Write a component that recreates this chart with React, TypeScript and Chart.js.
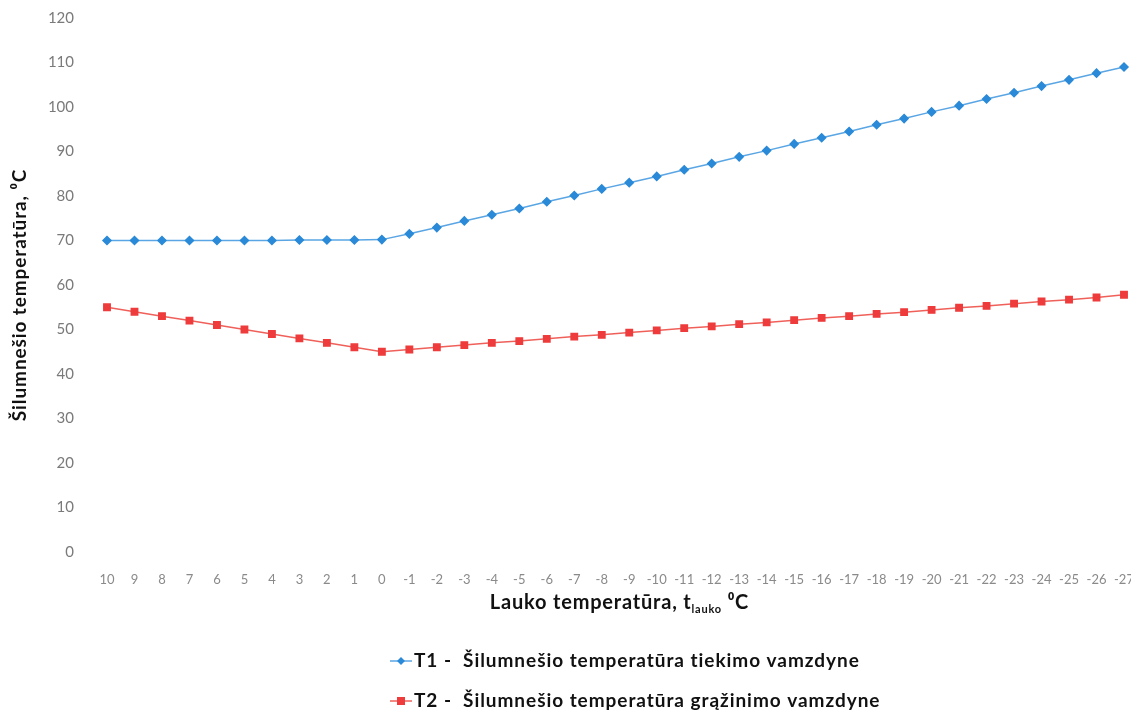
import React, { useEffect, useRef } from 'react';
import { Chart, registerables } from 'chart.js';
Chart.register(...registerables);

const categories = ['10', '9', '8', '7', '6', '5', '4', '3', '2', '1', '0', '-1', '-2', '-3', '-4', '-5', '-6', '-7', '-8', '-9', '-10', '-11', '-12', '-13', '-14', '-15', '-16', '-17', '-18', '-19', '-20', '-21', '-22', '-23', '-24', '-25', '-26', '-27'];

const t1Values = [70, 70, 70, 70, 70, 70, 70, 70.1, 70.1, 70.1, 70.2, 71.5, 72.9, 74.4, 75.8, 77.2, 78.7, 80.1, 81.6, 83.0, 84.4, 85.9, 87.3, 88.8, 90.2, 91.7, 93.1, 94.5, 96.0, 97.4, 98.9, 100.3, 101.8, 103.2, 104.7, 106.1, 107.6, 109.0];

const t2Values = [55, 54, 53, 52, 51, 50, 49, 48, 47, 46, 45, 45.5, 46.0, 46.5, 47.0, 47.4, 47.9, 48.4, 48.8, 49.3, 49.8, 50.3, 50.7, 51.2, 51.6, 52.1, 52.6, 53.0, 53.5, 53.9, 54.4, 54.9, 55.3, 55.8, 56.3, 56.7, 57.2, 57.8];

const yMin = 0;
const yMax = 120;
const yStep = 10;

const t1Label = 'T1 -  Šilumnešio temperatūra tiekimo vamzdyne';
const t2Label = 'T2 -  Šilumnešio temperatūra grąžinimo vamzdyne';
const yTitle = 'Šilumnešio temperatūra, ⁰C';
const xTitleMain = 'Lauko temperatūra, t';
const xTitleSub = 'lauko';
const xTitleUnit = '⁰C';

const FONT = 'Lato, "Open Sans", sans-serif';
const BLUE_LINE = '#5aa6e4';
const BLUE_PT = '#2a8ad8';
const RED_LINE = '#f0605a';
const RED_PT = '#ee3b3b';

function setSpacing(ctx: any, px: number) {
  if ('letterSpacing' in ctx) ctx.letterSpacing = px + 'px';
}

const extrasPlugin = {
  id: 'extras',
  afterDraw(chart: any) {
    const ctx = chart.ctx as any;
    const area = chart.chartArea;
    ctx.save();
    ctx.fillStyle = '#111';
    ctx.textBaseline = 'middle';
    ctx.textAlign = 'left';

    // y-axis title (rotated)
    ctx.save();
    ctx.font = `bold 19px ${FONT}`;
    setSpacing(ctx, 0.9);
    const yw = ctx.measureText(yTitle).width;
    ctx.translate(20, (area.top + area.bottom) / 2 + 10);
    ctx.rotate(-Math.PI / 2);
    ctx.fillText(yTitle, -yw / 2, 0);
    ctx.restore();

    // x-axis title with subscript
    const big = `bold 20px ${FONT}`;
    const small = `bold 11px ${FONT}`;
    setSpacing(ctx, 0.8);
    ctx.font = big;
    const w1 = ctx.measureText(xTitleMain).width;
    ctx.font = small;
    const w2 = ctx.measureText(xTitleSub).width;
    ctx.font = big;
    const w3 = ctx.measureText(' ' + xTitleUnit).width;
    const total = w1 + w2 + w3;
    let x = (area.left + area.right) / 2 - total / 2 + 4;
    const y = area.bottom + 51;
    ctx.font = big;
    ctx.fillText(xTitleMain, x, y);
    x += w1;
    ctx.font = small;
    ctx.fillText(xTitleSub, x, y + 6);
    x += w2;
    ctx.font = big;
    ctx.fillText(' ' + xTitleUnit, x, y);

    // legend
    const rows = [
      { label: t1Label, line: BLUE_LINE, pt: BLUE_PT, style: 'diamond', y: area.bottom + 109 },
      { label: t2Label, line: RED_LINE, pt: RED_PT, style: 'square', y: area.bottom + 149 },
    ];
    const lx0 = 390;
    const lx1 = 412;
    rows.forEach((r) => {
      ctx.strokeStyle = r.line;
      ctx.lineWidth = 1.5;
      ctx.beginPath();
      ctx.moveTo(lx0, r.y);
      ctx.lineTo(lx1, r.y);
      ctx.stroke();
      ctx.fillStyle = r.pt;
      const cx = (lx0 + lx1) / 2;
      ctx.beginPath();
      if (r.style === 'diamond') {
        ctx.moveTo(cx, r.y - 4);
        ctx.lineTo(cx + 4, r.y);
        ctx.lineTo(cx, r.y + 4);
        ctx.lineTo(cx - 4, r.y);
        ctx.closePath();
      } else {
        ctx.rect(cx - 4, r.y - 4, 8, 8);
      }
      ctx.fill();
      ctx.fillStyle = '#111';
      ctx.font = `bold 19px ${FONT}`;
      setSpacing(ctx, 0.95);
      ctx.textAlign = 'left';
      ctx.textBaseline = 'middle';
      ctx.fillText(r.label, lx1 + 2, r.y);
    });
    setSpacing(ctx, 0);
    ctx.restore();
  },
};

export default function App() {
  const canvasRef = useRef<HTMLCanvasElement | null>(null);
  useEffect(() => {
    if (!canvasRef.current) return;
    const chart = new Chart(canvasRef.current, {
      type: 'line',
      data: {
        labels: categories,
        datasets: [
          {
            label: t1Label,
            data: t1Values,
            borderColor: BLUE_LINE,
            backgroundColor: BLUE_PT,
            pointBackgroundColor: BLUE_PT,
            pointBorderColor: BLUE_PT,
            pointStyle: 'rectRot',
            pointRadius: 4,
            borderWidth: 1.5,
            tension: 0,
          },
          {
            label: t2Label,
            data: t2Values,
            borderColor: RED_LINE,
            backgroundColor: RED_PT,
            pointBackgroundColor: RED_PT,
            pointBorderColor: RED_PT,
            pointStyle: 'rect',
            pointRadius: 4.5,
            borderWidth: 1.5,
            tension: 0,
          },
        ],
      },
      options: {
        animation: false,
        responsive: false,
        maintainAspectRatio: false,
        layout: { padding: { top: 18, right: 7, left: 0, bottom: 0 } },
        plugins: {
          legend: { display: false },
          tooltip: { enabled: false },
        },
        scales: {
          x: {
            type: 'category',
            offset: false,
            grid: { display: false },
            border: { display: false },
            ticks: {
              color: '#8a8a8a',
              font: { family: FONT, size: 13 },
              maxRotation: 0,
              autoSkip: false,
              padding: 12,
            },
            afterFit: (scale: any) => {
              scale.height = 162;
              scale.paddingLeft = 0;
              scale.paddingRight = 0;
            },
          },
          y: {
            min: yMin,
            max: yMax,
            grid: { display: false },
            border: { display: false },
            ticks: {
              stepSize: yStep,
              color: '#7a7a7a',
              font: { family: FONT, size: 15 },
              padding: 25,
            },
            title: { display: false },
            afterFit: (scale: any) => {
              scale.width = 107;
              scale.paddingTop = 0;
              scale.paddingBottom = 0;
            },
          },
        },
      },
      plugins: [extrasPlugin],
    } as any);
    return () => chart.destroy();
  }, []);
  return (
    <div style={{ position: 'fixed', left: 0, top: 0, width: 1131, height: 714, background: '#fff' }}>
      <canvas ref={canvasRef} width={1131} height={714} style={{ width: 1131, height: 714 }} />
    </div>
  );
}
